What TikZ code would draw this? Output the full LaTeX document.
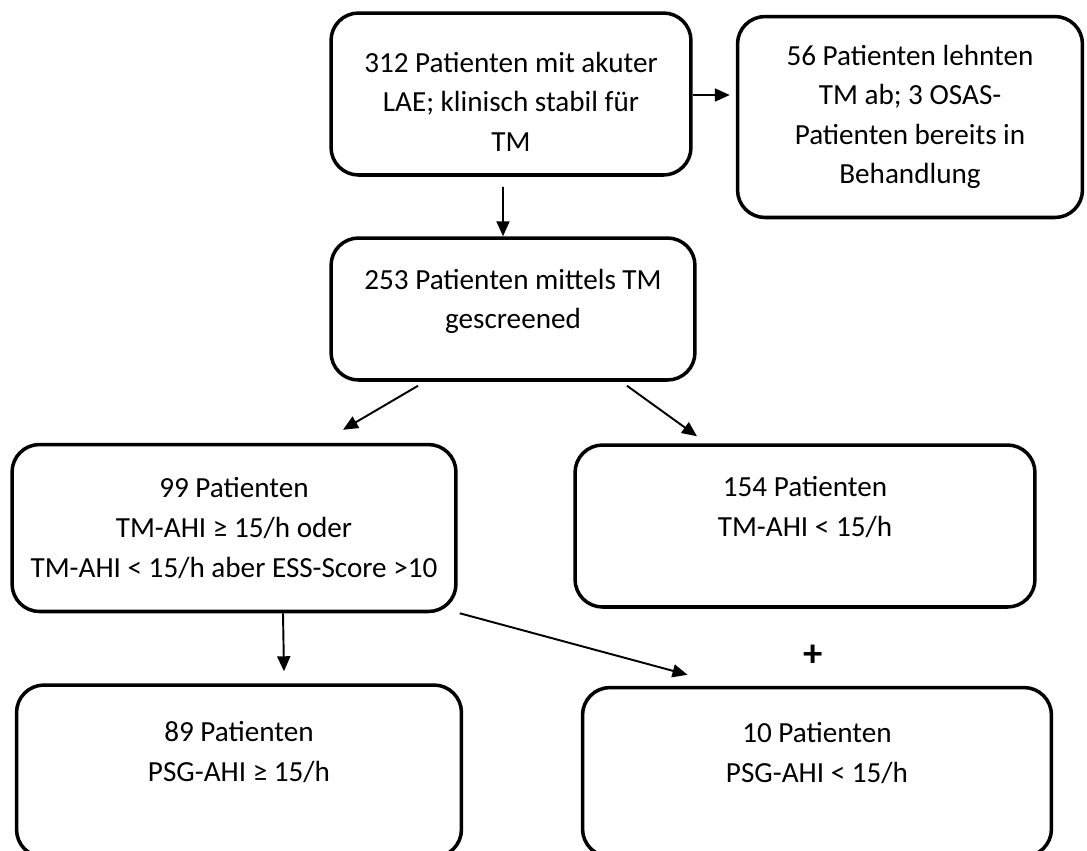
\documentclass[tikz,border=0pt]{standalone}
\usepackage{fontspec}
\setmainfont{Carlito}
\usetikzlibrary{arrows.meta,calc}

\begin{document}
\begin{tikzpicture}[x=0.02cm,y=-0.02cm,
  PatBox/.style={draw,line width=2pt,rounded corners=0.55cm,align=center,
    inner sep=0pt,font=\fontsize{16.6}{22.5}\selectfont},
  FlowArr/.style={line width=1.1pt,-{Triangle[length=0.3cm,width=0.26cm]}}]

\useasboundingbox (0,0) rectangle (1087,850);
\clip (0,0) rectangle (1087,850);

\node[PatBox,minimum width=7.2cm,minimum height=3.24cm] (lae) at (511,94)
  {\mbox{}\\[-2.5pt]312 Patienten mit akuter\\LAE; klinisch stabil für\\TM};
\node[PatBox,minimum width=6.9cm,minimum height=4.02cm] (abgelehnt) at (910,117)
  {56 Patienten lehnten\\TM ab; 3 OSAS-\\Patienten bereits in\\Behandlung};
\node[PatBox,minimum width=7.28cm,minimum height=2.84cm] (screen) at (513,309)
  {253 Patienten mittels TM\\gescreened\\[-11pt]\mbox{}};

\node[PatBox,minimum width=8.88cm,minimum height=3.34cm] (tmPos) at (234,528)
  {99 Patienten\\TM-AHI ≥ 15/h oder\\TM-AHI < 15/h aber ESS-Score >10};
\node[PatBox,minimum width=9.2cm,minimum height=3.24cm] (tmNeg) at (805,526)
  {154 Patienten\\TM-AHI < 15/h\\\mbox{}};

\node[PatBox,minimum width=8.9cm,minimum height=3.44cm] (psgPos) at (239,771)
  {89 Patienten\\PSG-AHI ≥ 15/h\\\mbox{}};
\node[PatBox,minimum width=9.38cm,minimum height=3.38cm] (psgNeg) at (817,772)
  {10 Patienten\\PSG-AHI < 15/h\\\mbox{}};
\node[font=\fontsize{22}{24}\selectfont\bfseries] (plus) at (813,656) {+};

\draw[FlowArr] (lae.east |- 0,95) -- ([xshift=-0.12cm]abgelehnt.west |- 0,95);
\draw[FlowArr] ([xshift=-0.16cm,yshift=-0.2cm]lae.south) -- ([xshift=-0.2cm]screen.north);
\draw[FlowArr] ([xshift=-1.9cm,yshift=-0.08cm]screen.south) -- ([xshift=2.18cm,yshift=0.26cm]tmPos.north);
\draw[FlowArr] ([xshift=2.28cm,yshift=-0.08cm]screen.south) -- ([xshift=-2.16cm,yshift=0.14cm]tmNeg.north);
\draw[FlowArr] ([xshift=0.98cm]tmPos.south) -- ([xshift=0.9cm,yshift=0.24cm]psgPos.north);
\draw[FlowArr] ([xshift=0.04cm]tmPos.south east) -- ([xshift=-2.59cm,yshift=0.22cm]psgNeg.north);

\end{tikzpicture}
\end{document}
